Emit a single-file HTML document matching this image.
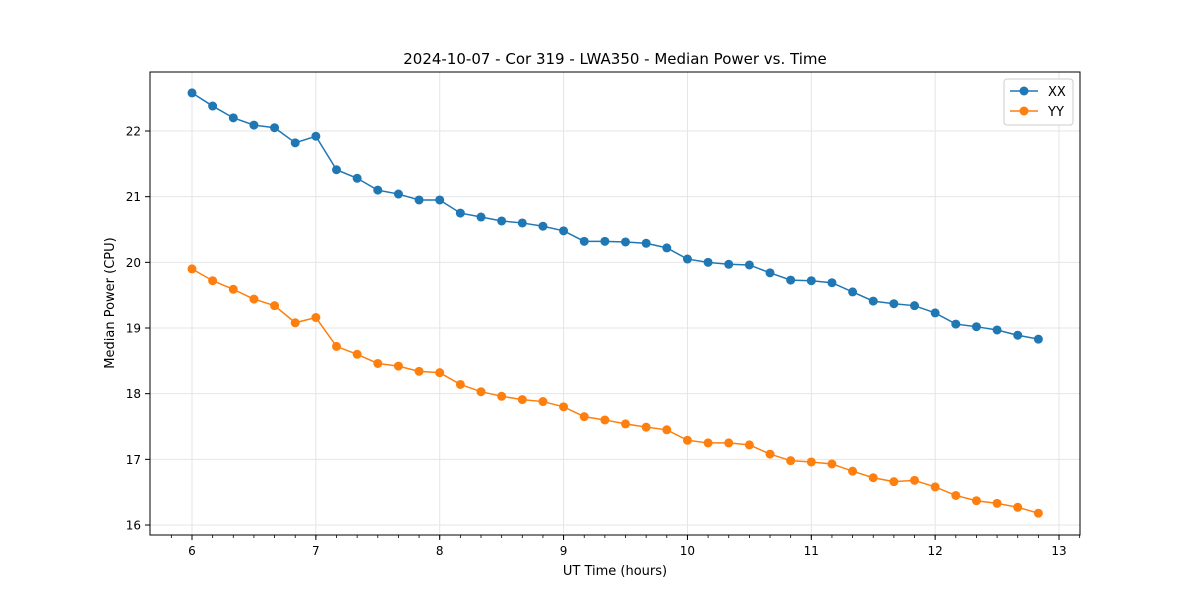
<!DOCTYPE html>
<html><head><meta charset="utf-8"><style>
body{margin:0;background:#fff;font-family:"Liberation Sans","DejaVu Sans",sans-serif}
text{font-family:"DejaVu Sans","Liberation Sans",sans-serif}
</style></head><body>
<svg id="chart" width="1200" height="600" xmlns="http://www.w3.org/2000/svg">
<rect width="1200" height="600" fill="#fff"/>
<g id="grid"></g>
<g id="axes"></g>
<g id="series"></g>
<text x="615" y="64" text-anchor="middle" font-size="15">2024-10-07 - Cor 319 - LWA350 - Median Power vs. Time</text>
<text x="615" y="575" text-anchor="middle" font-size="13">UT Time (hours)</text>
<text transform="translate(114,303) rotate(-90)" text-anchor="middle" font-size="13">Median Power (CPU)</text>
<g>
<rect x="1004" y="79" width="69" height="46" fill="#fff" stroke="#ccc" rx="3"/>
<g><line x1="1010" y1="91" x2="1038" y2="91" stroke="#1f77b4" stroke-width="1.5"/><circle cx="1024" cy="91" r="4.5" fill="#1f77b4"/><text x="1048" y="96" font-size="13">XX</text></g>
<g><line x1="1010" y1="111" x2="1038" y2="111" stroke="#ff7f0e" stroke-width="1.5"/><circle cx="1024" cy="111" r="4.5" fill="#ff7f0e"/><text x="1048" y="116" font-size="13">YY</text></g>
</g>
</svg>
<script>
const xxValues=[22.58,22.38,22.20,22.09,22.05,21.82,21.92,21.41,21.28,21.10,21.04,20.95,20.95,20.75,20.69,20.63,20.60,20.55,20.48,20.32,20.32,20.31,20.29,20.22,20.05,20.00,19.97,19.96,19.84,19.73,19.72,19.69,19.55,19.41,19.37,19.34,19.23,19.06,19.02,18.97,18.89,18.83];
const yyValues=[19.90,19.72,19.59,19.44,19.34,19.08,19.16,18.72,18.60,18.46,18.42,18.34,18.32,18.14,18.03,17.96,17.91,17.88,17.80,17.65,17.60,17.54,17.49,17.45,17.29,17.25,17.25,17.22,17.08,16.98,16.96,16.93,16.82,16.72,16.66,16.68,16.58,16.45,16.37,16.33,16.27,16.18];
const startHour=6, stepHours=1/6;
const xTicks=[6,7,8,9,10,11,12,13];
const yTicks=[16,17,18,19,20,21,22];
const L=150,R=1080,T=72,B=535;
const x=v=>192+(v-6)*123.86;
const y=v=>131-(v-22)*65.67;
const NS="http://www.w3.org/2000/svg";
function mk(tag,attrs,parent){const e=document.createElementNS(NS,tag);for(const k in attrs)e.setAttribute(k,attrs[k]);parent.appendChild(e);return e;}
const grid=document.getElementById('grid'),axes=document.getElementById('axes'),series=document.getElementById('series');
xTicks.forEach(t=>{
 const g=mk('line',{x1:x(t),x2:x(t),y1:T,y2:B,stroke:'#e5e5e5'},grid);
 
 
 const tk=mk('line',{x1:x(t),x2:x(t),y1:B,y2:B+5,stroke:'#000'},axes);
 
 
 const tx=mk('text',{x:x(t),y:B+20,'text-anchor':'middle','font-size':12},axes);tx.textContent=t;
 
 
});
for(let m=5+5/6;m<13.2;m+=stepHours){const px=x(m);if(px<L||px>R)continue;
 const mt=mk('line',{x1:px,x2:px,y1:B,y2:B+3,stroke:'#000','stroke-width':0.8},axes);
 
 }
yTicks.forEach(t=>{
 const g=mk('line',{x1:L,x2:R,y1:y(t),y2:y(t),stroke:'#e5e5e5'},grid);
 
 
 const tk=mk('line',{x1:L-5,x2:L,y1:y(t),y2:y(t),stroke:'#000'},axes);
 
 
 const tx=mk('text',{x:L-9,y:y(t)+4.5,'text-anchor':'end','font-size':12},axes);tx.textContent=t;
 
 
});
const frame=mk('rect',{x:L,y:T,width:R-L,height:B-T,fill:'none',stroke:'#000','stroke-width':1},axes);


function draw(vals,color,name){
 const pts=vals.map((v,i)=>[x(startHour+i*stepHours),y(v)]);
 const pl=mk('polyline',{points:pts.map(p=>p.join(',')).join(' '),fill:'none',stroke:color,'stroke-width':1.5},series);
 
 
 pts.forEach(p=>{const c=mk('circle',{cx:p[0],cy:p[1],r:4.5,fill:color},series);
  
  });
}
draw(xxValues,'#1f77b4','xx');
draw(yyValues,'#ff7f0e','yy');
</script>
</body></html>
